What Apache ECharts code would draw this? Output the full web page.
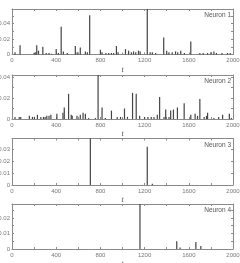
<!DOCTYPE html>
<html><head><meta charset="utf-8">
<script src="https://cdn.jsdelivr.net/npm/echarts@6/dist/echarts.min.js"></script>
<style>html,body{margin:0;padding:0;background:#fff}#c{width:240px;height:263px}</style>
</head><body><div id="c"></div>
<script>
var neuronNames = ['Neuron 1','Neuron 2','Neuron 3','Neuron 4'];
var xTickLabels = [0,400,800,1200,1600,2000];
var t1 = [27,73,200,215,224,240,279,310,335,360,400,420,445,465,500,573,590,618,664,682,703,800,815,850,875,900,920,945,960,1027,1055,1080,1100,1120,1145,1160,1224,1250,1270,1300,1373,1400,1420,1450,1480,1500,1527,1560,1618,1700,1730,1770,1800,1827,1850,1900,1950,1975];
var v1 = [0.003,0.012,0.002,0.003,0.012,0.005,0.010,0.002,0.002,0.001,0.007,0.002,0.036,0.004,0.002,0.011,0.003,0.009,0.004,0.003,0.051,0.006,0.003,0.002,0.002,0.002,0.002,0.011,0.003,0.007,0.005,0.003,0.004,0.003,0.005,0.004,0.070,0.003,0.003,0.002,0.022,0.005,0.003,0.003,0.004,0.003,0.005,0.002,0.017,0.002,0.002,0.002,0.003,0.004,0.002,0.002,0.002,0.002];
var t2 = [27,65,79,157,185,203,230,261,285,300,315,335,352,406,461,473,512,536,545,588,618,643,664,694,755,779,815,845,900,952,982,1018,1045,1091,1124,1155,1200,1230,1260,1285,1315,1336,1376,1391,1421,1436,1461,1497,1558,1618,1657,1679,1700,1739,1760,1770,1827,1870,1906,1967,1985];
var v2 = [0.002,0.002,0.002,0.003,0.002,0.002,0.004,0.002,0.002,0.002,0.003,0.003,0.004,0.005,0.006,0.011,0.024,0.004,0.003,0.003,0.004,0.006,0.005,0.001,0.001,0.060,0.011,0.001,0.008,0.002,0.002,0.010,0.002,0.025,0.024,0.003,0.002,0.002,0.002,0.002,0.004,0.021,0.002,0.009,0.002,0.008,0.009,0.011,0.015,0.004,0.005,0.003,0.019,0.002,0.003,0.006,0.001,0.002,0.004,0.005,0.001];
var t3 = [709,1224,1270];
var v3 = [0.060,0.032,0.001];
var t4 = [1158,1491,1521,1664,1709];
var v4 = [0.060,0.005,0.001,0.0045,0.002];
var yMax = [0.059,0.042,0.039,0.029];
var yTickStep = [0.01,0.01,0.01,0.005];
var yLabelStep = [0.02,0.02,0.01,0.01];

var T = [t1,t2,t3,t4], V = [v1,v2,v3,v4];
var tops = [9,75,138.5,204];
var bottoms = [54.5,119,185,249];
var chart = echarts.init(document.getElementById('c'), null, {renderer:'canvas'});
var grid=[], xAxis=[], yAxis=[], series=[], title=[];
var axCol = '#8a8a8a', labCol = '#777';
var ff = 'Liberation Sans';
function isMult(v, s){ var r = v/s; return Math.abs(r-Math.round(r))<1e-6; }
for (var i=0;i<4;i++){
  grid.push({left:12, right:7, top:tops[i], height:bottoms[i]-tops[i], containLabel:false, outerBoundsMode:'none'});
  var lstep = yLabelStep[i];
  xAxis.push({type:'value', gridIndex:i, min:0, max:2000, interval:200, position:'bottom',
    axisLine:{show:true, onZero:false, lineStyle:{color:axCol, width:1}},
    axisTick:{show:true, inside:true, length:2, lineStyle:{color:axCol}},
    splitLine:{show:false},
    axisLabel:{fontSize:6, color:labCol, margin:3, fontFamily:ff,
      formatter:function(v){ return xTickLabels.indexOf(v)>=0 ? String(v) : ''; }},
    name:'t', nameLocation:'middle', nameGap:11,
    nameTextStyle:{fontSize:8, fontStyle:'italic', color:'#555', fontFamily:'Liberation Serif'}});
  xAxis.push({type:'value', gridIndex:i, min:0, max:2000, interval:200, position:'top',
    axisLine:{show:true, onZero:false, lineStyle:{color:axCol, width:1}},
    axisTick:{show:true, inside:true, length:2, lineStyle:{color:axCol}},
    splitLine:{show:false}, axisLabel:{show:false}});
  (function(lstep){
  yAxis.push({type:'value', gridIndex:i, min:0, max:yMax[i], interval:yTickStep[i], position:'left',
    axisLine:{show:true, onZero:false, lineStyle:{color:axCol, width:1}},
    axisTick:{show:true, inside:true, length:2, lineStyle:{color:axCol}},
    splitLine:{show:false},
    axisLabel:{fontSize:6, color:labCol, margin:2, fontFamily:ff,
      formatter:function(v){ if (v===0) return '0'; return isMult(v,lstep) && v < 0.0585 ? (+v.toFixed(3)).toString() : ''; }}});
  })(lstep);
  yAxis.push({type:'value', gridIndex:i, min:0, max:yMax[i], interval:yTickStep[i], position:'right',
    axisLine:{show:true, onZero:false, lineStyle:{color:axCol, width:1}},
    axisTick:{show:true, inside:true, length:2, lineStyle:{color:axCol}},
    splitLine:{show:false}, axisLabel:{show:false}});
  var data = T[i].map(function(t,k){ return [t, V[i][k]]; });
  series.push({type:'bar', xAxisIndex:2*i, yAxisIndex:2*i, data:data, barWidth:1.2,
    itemStyle:{color:'#444'}, clip:true, animation:false, silent:true});
  title.push({text:neuronNames[i], right:9, top:tops[i]+3, padding:0,
    textStyle:{fontSize:6.5, fontWeight:'normal', color:'#555', fontFamily:ff}});
}
chart.setOption({animation:false, backgroundColor:'#fff', title:title, grid:grid, xAxis:xAxis, yAxis:yAxis, series:series});
</script></body></html>
